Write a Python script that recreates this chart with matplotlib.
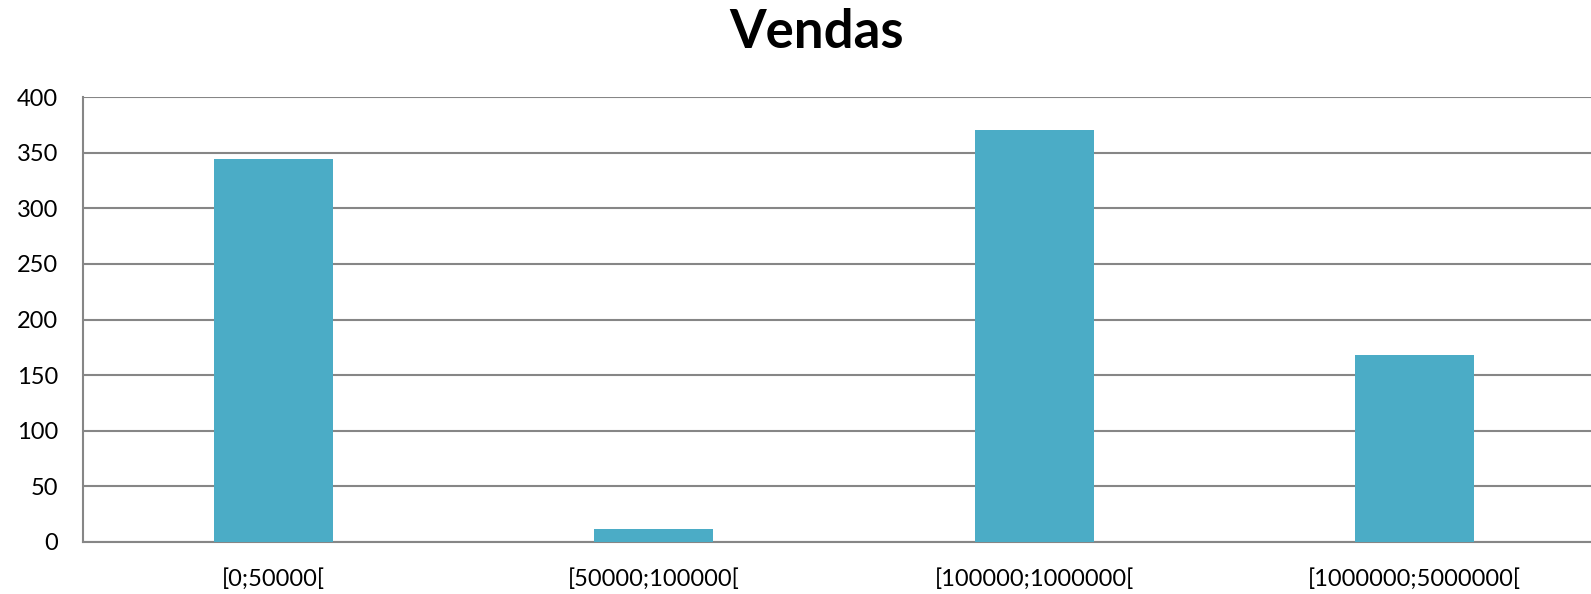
import matplotlib
matplotlib.use("Agg")
import matplotlib.pyplot as plt
import numpy as np

categorias = ["[0;50000[", "[50000;100000[", "[100000;1000000[", "[1000000;5000000["]
vendas = [344, 12, 370, 168]
y_ticks = [0, 50, 100, 150, 200, 250, 300, 350, 400]

COR_BARRA = "#4BACC6"
COR_GRID = "#868686"

plt.rcParams["font.family"] = ["Lato", "DejaVu Sans"]

fig = plt.figure(figsize=(15.91, 5.94), dpi=100)
ax = fig.add_axes([83 / 1591, 52 / 594, 1 - 83 / 1591, 445 / 594])

x = np.arange(len(categorias))
ax.bar(x, vendas, width=0.313, color=COR_BARRA, zorder=3)

ax.set_ylim(0, 400)
ax.set_yticks(y_ticks)
ax.set_xlim(-0.5, -0.5 + 1508 / 380.5)
ax.set_xticks(x)
ax.set_xticklabels(categorias)
ax.yaxis.grid(True, color=COR_GRID, lw=1.5, zorder=0)
ax.set_axisbelow(True)

for s in ["top", "right"]:
    ax.spines[s].set_visible(False)
for s in ["left", "bottom"]:
    ax.spines[s].set_color(COR_GRID)
    ax.spines[s].set_linewidth(1.5)

ax.tick_params(axis="both", length=0, labelsize=17, colors="black")
ax.tick_params(axis="y", pad=18)
ax.tick_params(axis="x", pad=19)

fig.text(817 / 1591, 1 - 32 / 594, "Vendas", ha="center", va="center",
         fontsize=38, fontweight="bold")

fig.savefig("out.png", dpi=100)
